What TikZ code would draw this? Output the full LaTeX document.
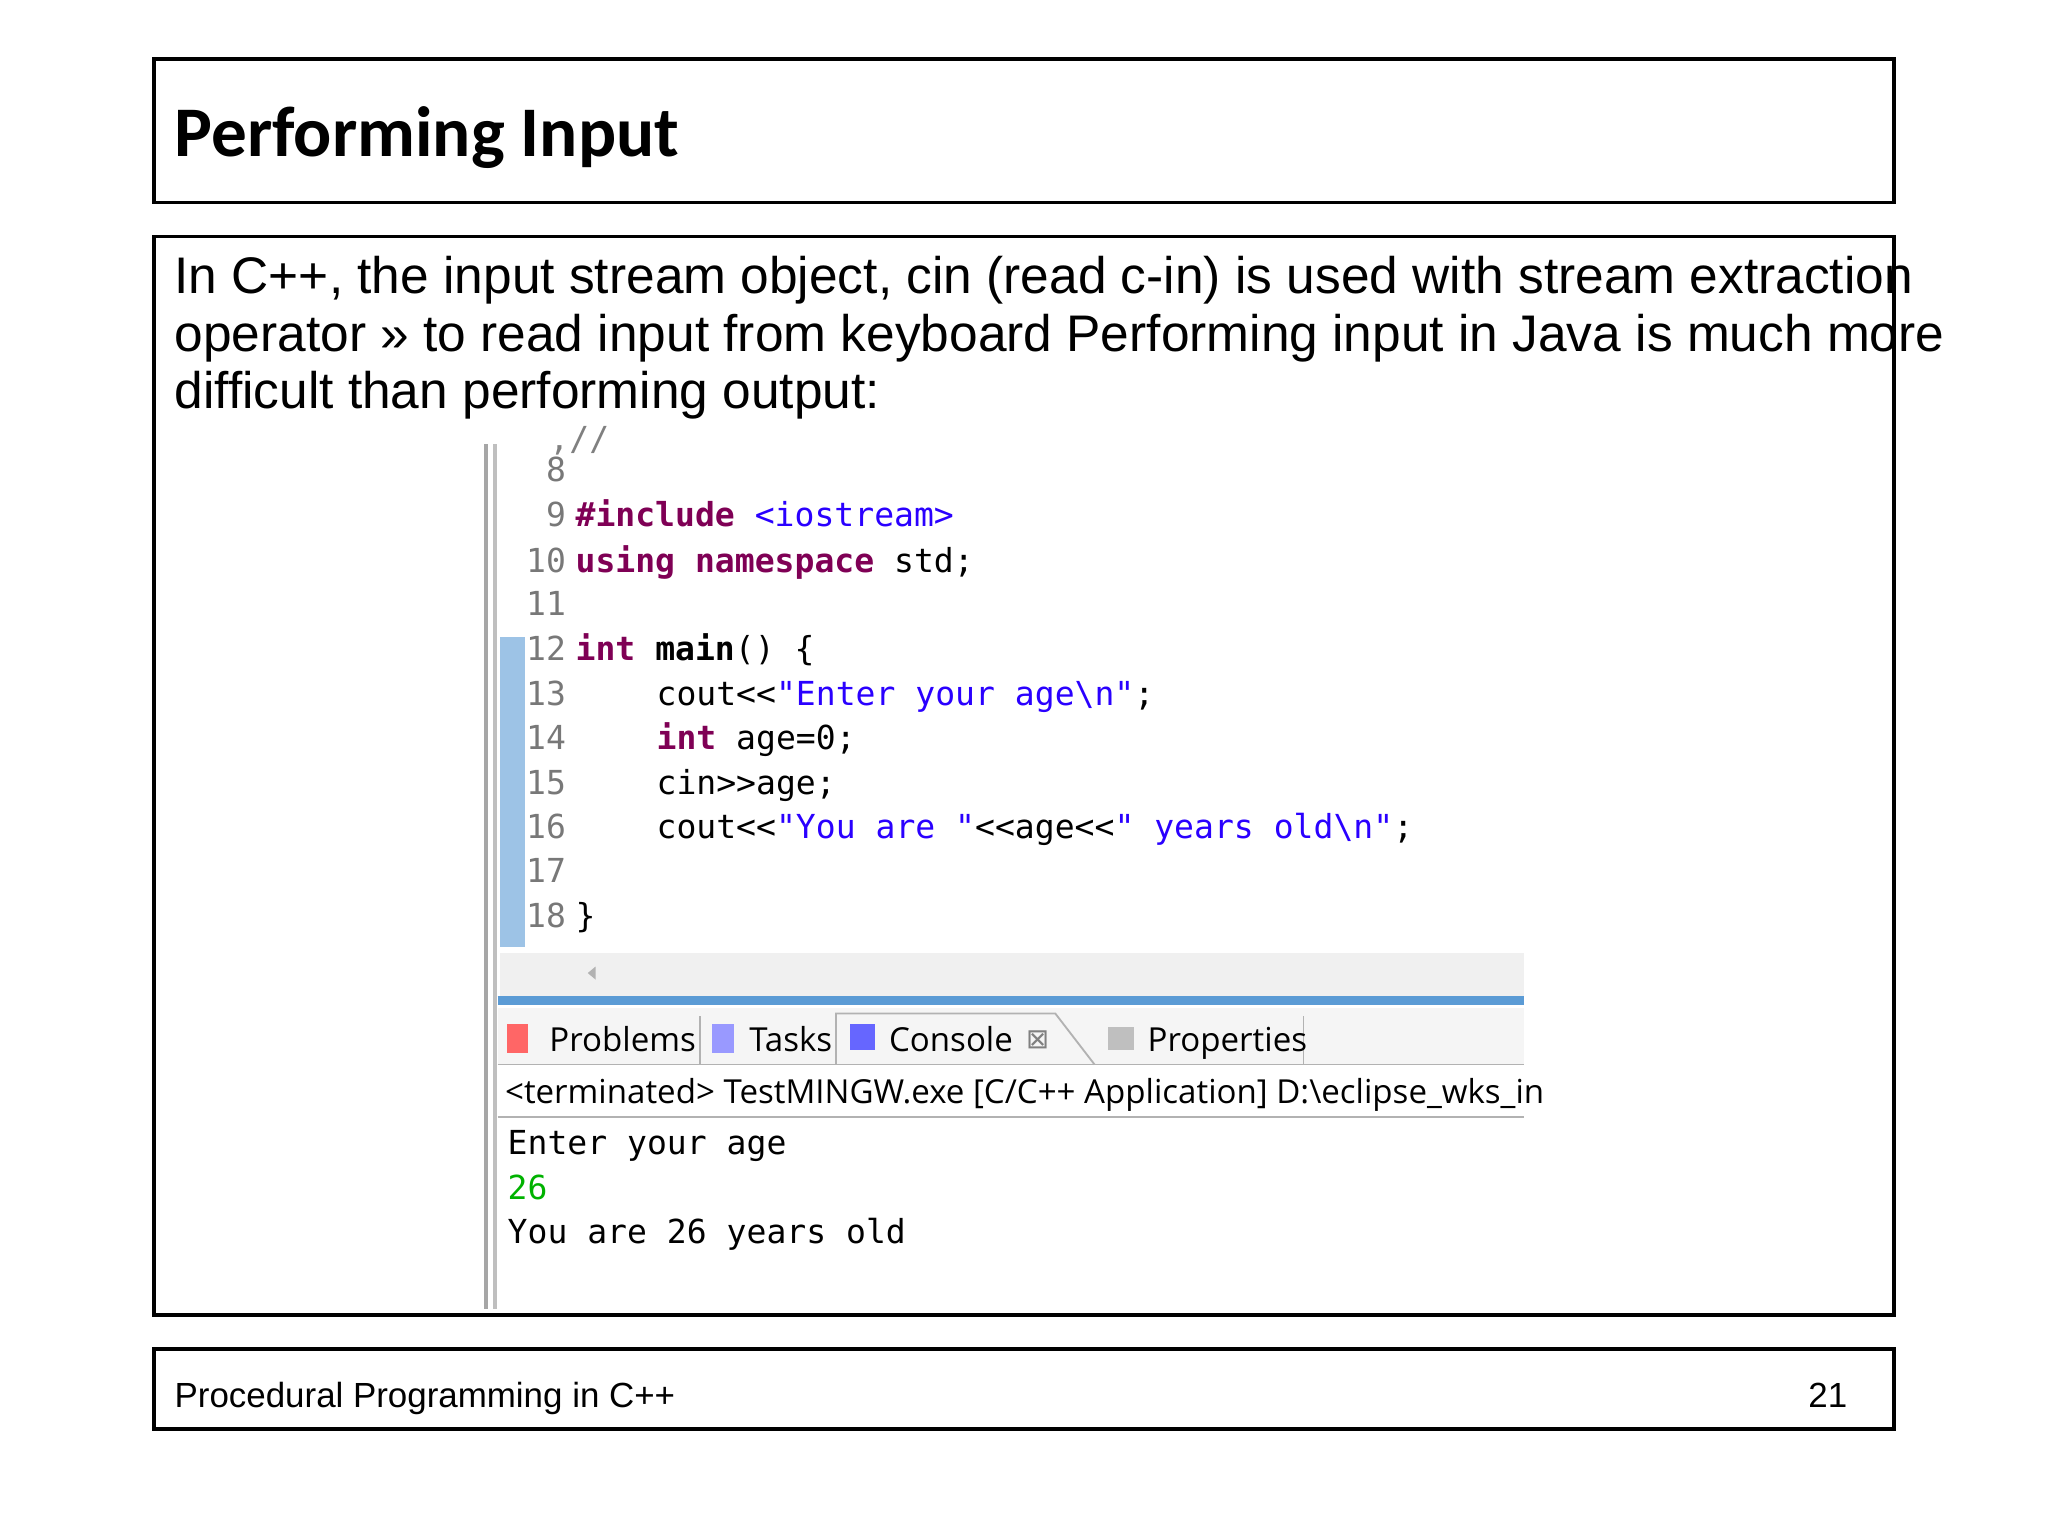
\documentclass[tikz,border=0pt]{standalone}
\usepackage{fontspec}
\setmainfont{Liberation Sans}
\newfontfamily\titlefont{Carlito}
\newfontfamily\uifont{Open Sans}
\setmonofont{DejaVu Sans Mono}
\definecolor{kw}{HTML}{7F0055}
\definecolor{str}{HTML}{2A00FF}
\definecolor{num}{HTML}{787878}
\definecolor{markblue}{HTML}{5B9BD5}
\tikzset{
 frame/.style={draw=black,line width=0.8pt},
 txt/.style={anchor=base west,inner sep=0pt,font=\fontsize{11.2}{13}\selectfont},
 code/.style={anchor=base west,inner sep=0pt,font=\ttfamily\fontsize{7.2}{9}\selectfont},
 lnum/.style={anchor=base east,inner sep=0pt,text=num,font=\ttfamily\fontsize{7.2}{9}\selectfont},
 ui/.style={anchor=base west,inner sep=0pt,font=\uifont\fontsize{7.2}{9}\selectfont}
}
\begin{document}
\begin{tikzpicture}[x=0.01cm,y=-0.01cm]
\useasboundingbox (0,0) rectangle (1568,1176);
% boxes
\draw[frame] (118,45) rectangle (1450,155);
\node[anchor=base west,inner sep=0pt,font=\titlefont\bfseries\fontsize{15.5}{18}\selectfont] (title) at (133,120) {Performing Input};
\draw[frame] (118,181) rectangle (1450,1007);
\node[txt] (l1) at (133,225) {In C++, the input stream object, cin (read c-in) is used with stream extraction};
\node[txt] (l2) at (133,269) {operator >> to read input from keyboard Performing input in Java is much more};
\node[txt] (l3) at (133,313) {difficult than performing output:};
\draw[frame] (118,1033) rectangle (1450,1094);
\node[txt,font=\fontsize{7.6}{9}\selectfont] (foot) at (133,1078) {Procedural Programming in C++};
\node[anchor=base east,inner sep=0pt,font=\fontsize{7.6}{9}\selectfont] (pg) at (1415,1078) {21};
% screenshot
\fill[white] (372,340) rectangle (1167,1002);
\draw[gray!70,line width=1pt] (372,340) -- (372,1002);
\draw[gray!50,line width=1pt] (379,340) -- (379,1002);
\fill[markblue!60] (383,488) rectangle (402,725);
\node[code,text=gray] (top) at (420,345) {,//};
\foreach \n/\y in {8/369,9/403,10/438,11/471,12/506,13/540,14/574,15/608,16/642,17/676,18/710}
  \node[lnum] (n\n) at (434,\y) {\n};
\node[code] (c9) at (440,403) {\textcolor{kw}{\bfseries\#include} \textcolor{str}{<iostream>}};
\node[code] (c10) at (440,438) {\textcolor{kw}{\bfseries using namespace} std;};
\node[code] (c12) at (440,506) {\textcolor{kw}{\bfseries int} \textbf{main}() \{};
\node[code] (c13) at (502,540) {cout<<\textcolor{str}{"Enter your age\textbackslash n"};};
\node[code] (c14) at (502,574) {\textcolor{kw}{\bfseries int} age=0;};
\node[code] (c15) at (502,608) {cin>>age;};
\node[code] (c16) at (502,642) {cout<<\textcolor{str}{"You are "}<<age<<\textcolor{str}{" years old\textbackslash n"};};
\node[code] (c18) at (440,710) {\}};
\fill[gray!12] (383,730) rectangle (1167,764);
\fill[gray!60] (456,740) -- (450,745) -- (456,750) -- cycle;
\draw[markblue,line width=2pt] (381,766) -- (1167,766);
\fill[gray!8] (381,772) rectangle (1167,815);
\draw[gray!60] (381,815) -- (1167,815);
\draw[gray!60] (640,815) -- (640,776) -- (808,776) -- (838,815);
\draw[gray!60] (998,778) -- (998,815);
\draw[gray!60] (536,778) -- (536,815);
\node[ui] (t1) at (420,805) {Problems};
\node[ui] (t2) at (573,805) {Tasks};
\node[ui] (t3) at (680,805) {Console};
\node[ui,text=gray,font=\fontspec{DejaVu Sans}\fontsize{6}{7}\selectfont] (tx) at (785,803) {⊠};
\node[ui] (t4) at (878,805) {Properties};
\fill[red!60] (388,784) rectangle (404,806);
\fill[blue!40] (545,784) rectangle (562,806);
\fill[blue!60] (651,784) rectangle (670,804);
\fill[gray!50] (848,786) rectangle (868,804);
\node[ui] (term) at (386,845) {<terminated> TestMINGW.exe [C/C++ Application] D:\textbackslash eclipse\_wks\_in};
\draw[gray!60] (381,855) -- (1167,855);
\node[code] (o1) at (388,884) {Enter your age};
\node[code,text=green!70!black] (o2) at (388,918) {26};
\node[code] (o3) at (388,952) {You are 26 years old};
\end{tikzpicture}
\end{document}
